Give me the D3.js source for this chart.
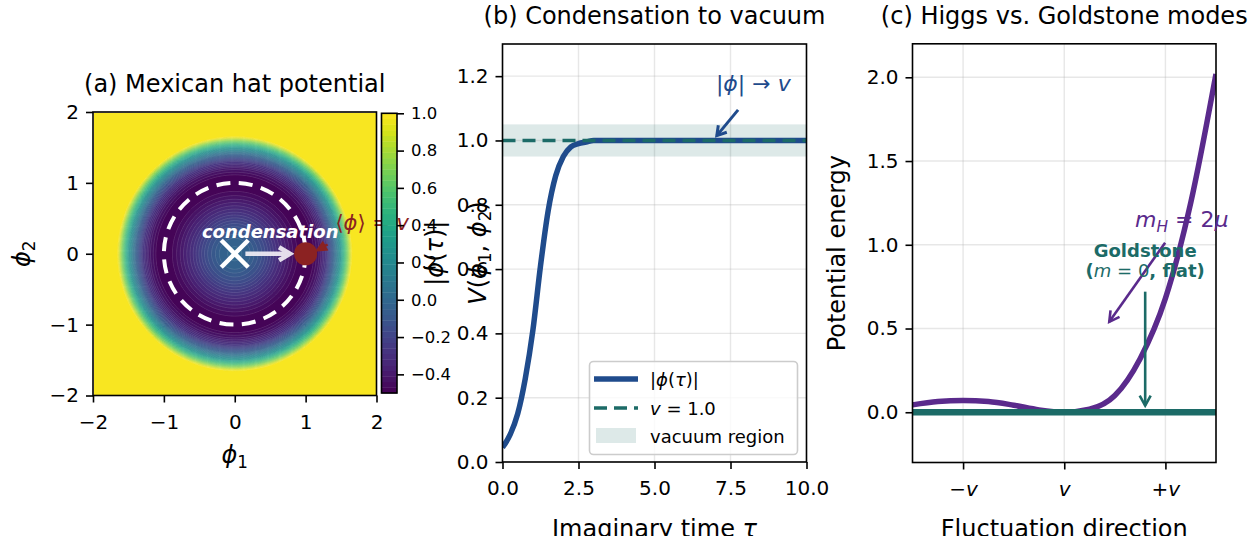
<!DOCTYPE html>
<html>
<head>
<meta charset="utf-8">
<script src="https://cdn.jsdelivr.net/npm/d3@7"></script>
<style>
  body { margin: 0; background: #fff; }
  text { font-family: "DejaVu Sans", sans-serif; }
</style>
</head>
<body>
<svg id="chart"></svg>
<script>
// ---- data ----
// (a) radial profile of the hat potential (clipped at 1)
let hatRadius = [0, 0.2, 0.4, 0.6, 0.8, 0.9, 1.0, 1.1, 1.2, 1.3, 1.4, 1.5, 1.6, 1.65, 1.7, 3.0];
let hatPotential = [0, -0.04, -0.15, -0.3, -0.43, -0.48, -0.5, -0.48, -0.4, -0.26, -0.04, 0.28, 0.72, 0.98, 1.0, 1.0];
let hatTicks = [-2, -1, 0, 1, 2];
let cbarTicks = [-0.4, -0.2, 0.0, 0.2, 0.4, 0.6, 0.8, 1.0];
let cbarRange = [-0.5, 1.0];
let vev = 1.0;

// (b) condensation in imaginary time
let tauValues = [0, 0.25, 0.5, 0.75, 1.0, 1.25, 1.5, 1.75, 2.0, 2.25, 2.5, 2.75, 3.0, 4.0, 5.0, 6.0, 8.0, 10.0];
let phiMagnitude = [0.045, 0.085, 0.15, 0.26, 0.41, 0.61, 0.78, 0.89, 0.95, 0.98, 0.99, 0.995, 1.0, 1.0, 1.0, 1.0, 1.0, 1.0];
let tauTicks = [0, 2.5, 5, 7.5, 10];
let phiTicks = [0, 0.2, 0.4, 0.6, 0.8, 1.0, 1.2];
let vacuumBand = [0.95, 1.05];

// (c) Higgs vs Goldstone
let fluctValues = [-1.5, -1.25, -1, -0.75, -0.5, -0.25, 0, 0.25, 0.5, 0.75, 1, 1.25, 1.5];
let higgsPotential = [0.044, 0.064, 0.07, 0.064, 0.042, 0.014, 0, 0.018, 0.1, 0.32, 0.68, 1.25, 2.02];
let goldstoneLevel = 0;
let fluctTicks = [-1, 0, 1];
let fluctTickLabels = [['\u2212', 'v'], ['', 'v'], ['+', 'v']];
let energyTicks = [0, 0.5, 1.0, 1.5, 2.0];

// ---- colours ----
let blue = '#1f4b8c',
    teal = '#1c6b67',
    purple = '#5a2a8c',
    darkRed = '#8b2222',
    gridColor = '#b0b0b0';

let W = 1254, H = 536;
let svg = d3.select('#chart').attr('width', W).attr('height', H);
svg.append('rect').attr('width', W).attr('height', H).attr('fill', '#fff');
let defs = svg.append('defs');

let minus = function (s) { return String(s).replace('-', '\u2212'); };
let fmt1 = function (d) { return minus(d3.format('.1f')(d)); };

// mathtext-ish helper: parts = [{t, it, sub, w}]
let mathText = function (g, x, y, parts, o) {
  let fs = o.size;
  let t = g.append('text')
    .attr('x', x).attr('y', y)
    .attr('font-size', fs)
    .attr('text-anchor', o.anchor || 'start')
    .attr('fill', o.color || '#000');
  if (o.rotate) t.attr('transform', 'rotate(' + o.rotate + ',' + x + ',' + y + ')');
  if (o.weight) t.attr('font-weight', o.weight);
  let shift = 0;
  parts.forEach(function (p) {
    let s = t.append('tspan').text(p.t);
    if (p.it) s.attr('font-style', 'italic');
    if (p.w) s.attr('font-weight', p.w);
    let target = p.sub ? fs * 0.22 : 0;
    if (target !== shift) { s.attr('dy', target - shift); shift = target; }
    if (p.sub) s.attr('font-size', fs * 0.7);
  });
  return t;
};

// simple "->" arrow
let arrow = function (g, x1, y1, x2, y2, color, width, headLen, headHalf, opacity) {
  let ang = Math.atan2(y2 - y1, x2 - x1);
  let bx = x2 - headLen * Math.cos(ang), by = y2 - headLen * Math.sin(ang);
  let px = -Math.sin(ang) * headHalf, py = Math.cos(ang) * headHalf;
  let a = g.append('g').attr('opacity', opacity == null ? 1 : opacity);
  a.append('line')
    .attr('x1', x1).attr('y1', y1).attr('x2', x2).attr('y2', y2)
    .attr('stroke', color).attr('stroke-width', width);
  a.append('path')
    .attr('d', 'M' + (bx + px) + ',' + (by + py) + 'L' + x2 + ',' + y2 + 'L' + (bx - px) + ',' + (by - py))
    .attr('fill', 'none').attr('stroke', color).attr('stroke-width', width)
    .attr('stroke-linejoin', 'miter');
};

let styleAxis = function (g, fs) {
  g.select('.domain').remove();
  g.selectAll('.tick line').attr('stroke', '#000').attr('stroke-width', 1.6);
  g.selectAll('.tick text').attr('fill', '#000').attr('font-size', fs)
    .attr('font-family', '"DejaVu Sans", sans-serif');
};

let TICK_FS = 20, LABEL_FS = 24, TITLE_FS = 24;
let XLABEL_Y = 537;

// =========================================================
// (a) Mexican hat potential
// =========================================================
let pa = { left: 93, right: 376.5, top: 112, bottom: 395.5 };
let ax = d3.scaleLinear().domain([-2, 2]).range([pa.left, pa.right]);
let ay = d3.scaleLinear().domain([-2, 2]).range([pa.bottom, pa.top]);

let radial = d3.scaleLinear().domain(hatRadius).range(hatPotential).clamp(true);
let n = 260;
let field = new Array(n * n);
for (let j = 0; j < n; j++) {
  for (let i = 0; i < n; i++) {
    let x = -2 + (i + 0.5) * 4 / n,
        y = 2 - (j + 0.5) * 4 / n;
    field[j * n + i] = radial(Math.hypot(x, y));
  }
}
let nLevels = 50;
let levels = d3.range(nLevels + 1).map(function (k) {
  return cbarRange[0] + k * (cbarRange[1] - cbarRange[0]) / nLevels;
});
let color = function (v) {
  return d3.interpolateViridis((v - cbarRange[0]) / (cbarRange[1] - cbarRange[0]));
};
let bands = d3.contours().size([n, n]).thresholds(levels.slice(0, -1).map(function (l, k) {
  return k === 0 ? l - 1e-6 : l;
}))(field);
let gridPath = d3.geoPath(d3.geoIdentity().scale((pa.right - pa.left) / n).translate([pa.left, pa.top]));

defs.append('clipPath').attr('id', 'clipA')
  .append('rect').attr('x', pa.left).attr('y', pa.top)
  .attr('width', pa.right - pa.left).attr('height', pa.bottom - pa.top);

let gA = svg.append('g');
let heat = gA.append('g').attr('clip-path', 'url(#clipA)');
heat.selectAll('path.band')
  .data(bands)
  .enter().append('path')
  .attr('class', 'band')
  .attr('d', gridPath)
  .attr('fill', function (d, k) { return color((levels[k] + levels[k + 1]) / 2); })
  .attr('stroke', function (d, k) { return color((levels[k] + levels[k + 1]) / 2); })
  .attr('stroke-width', 0.3);
heat.selectAll('path.iso')
  .data(bands.slice(1))
  .enter().append('path')
  .attr('class', 'iso')
  .attr('d', gridPath)
  .attr('fill', 'none')
  .attr('stroke', '#fff')
  .attr('stroke-opacity', 0.25)
  .attr('stroke-width', 0.5);

// vacuum manifold |phi| = v
gA.append('circle')
  .attr('cx', ax(0)).attr('cy', ay(0))
  .attr('r', ax(vev) - ax(0))
  .attr('fill', 'none').attr('stroke', '#fff')
  .attr('stroke-width', 4).attr('stroke-dasharray', '14,8.5');

// false vacuum X
let xs = 13.5;
[[-1, -1, 1, 1], [-1, 1, 1, -1]].forEach(function (c) {
  gA.append('line')
    .attr('x1', ax(0) + c[0] * xs).attr('y1', ay(0) + c[1] * xs)
    .attr('x2', ax(0) + c[2] * xs).attr('y2', ay(0) + c[3] * xs)
    .attr('stroke', '#fff').attr('stroke-width', 4.5);
});
arrow(gA, ax(0.15), ay(0), ax(0.78), ay(0), '#f2eef6', 4.5, 11, 6.5, 0.92);

// the red annotation arrowhead and its label (drawn below the colorbar)
let tipX = ax(1.15), tipY = ay(0.04);
let headAng = Math.atan2(tipY - ay(0.13), tipX - ax(1.31));
let hb = [tipX - 10 * Math.cos(headAng), tipY - 10 * Math.sin(headAng)];
let hp = [-Math.sin(headAng) * 4.5, Math.cos(headAng) * 4.5];
gA.append('line')
  .attr('x1', ax(1.31)).attr('y1', ay(0.13)).attr('x2', hb[0]).attr('y2', hb[1])
  .attr('stroke', darkRed).attr('stroke-width', 2.4);
gA.append('path')
  .attr('d', 'M' + (hb[0] + hp[0]) + ',' + (hb[1] + hp[1]) + 'L' + tipX + ',' + tipY +
    'L' + (hb[0] - hp[0]) + ',' + (hb[1] - hp[1]) + 'Z')
  .attr('fill', darkRed).attr('stroke', darkRed).attr('stroke-width', 1.5);
gA.append('circle')
  .attr('cx', ax(vev)).attr('cy', ay(0)).attr('r', 11.5)
  .attr('fill', darkRed);
mathText(gA, ax(1.42), ay(0.34), [
  { t: '\u27e8' }, { t: '\u03d5', it: true }, { t: '\u27e9 = ' }, { t: 'v', it: true }
], { size: 21, color: darkRed });

mathText(gA, ax(0.5), ay(0.22), [{ t: 'condensation', it: true }],
  { size: 18, color: '#fff', anchor: 'middle', weight: 'bold' });

gA.append('rect')
  .attr('x', pa.left).attr('y', pa.top)
  .attr('width', pa.right - pa.left).attr('height', pa.bottom - pa.top)
  .attr('fill', 'none').attr('stroke', '#000').attr('stroke-width', 1.6);

gA.append('g').attr('transform', 'translate(0,' + pa.bottom + ')')
  .call(d3.axisBottom(ax).tickValues(hatTicks).tickSize(7).tickPadding(12).tickFormat(minus))
  .call(styleAxis, TICK_FS);
gA.append('g').attr('transform', 'translate(' + pa.left + ',0)')
  .call(d3.axisLeft(ay).tickValues(hatTicks).tickSize(7).tickPadding(7).tickFormat(minus))
  .call(styleAxis, TICK_FS);

svg.append('text')
  .attr('x', (pa.left + pa.right) / 2).attr('y', 92)
  .attr('text-anchor', 'middle').attr('font-size', TITLE_FS)
  .text('(a) Mexican hat potential');
mathText(svg, (pa.left + pa.right) / 2, 463, [{ t: '\u03d5', it: true }, { t: '1', sub: true }],
  { size: LABEL_FS, anchor: 'middle' });
mathText(svg, 30, (pa.top + pa.bottom) / 2, [{ t: '\u03d5', it: true }, { t: '2', sub: true }],
  { size: LABEL_FS, anchor: 'middle', rotate: -90 });

// colorbar
let cb = { left: 381.5, right: 397, top: 113.3, bottom: 393 };
let cbY = d3.scaleLinear().domain(cbarRange).range([cb.bottom, cb.top]);
let gCB = svg.append('g');
gCB.selectAll('rect.cbband')
  .data(d3.range(nLevels))
  .enter().append('rect')
  .attr('class', 'cbband')
  .attr('x', cb.left).attr('width', cb.right - cb.left)
  .attr('y', function (k) { return cbY(levels[k + 1]); })
  .attr('height', function (k) { return cbY(levels[k]) - cbY(levels[k + 1]) + 0.4; })
  .attr('fill', function (k) { return color((levels[k] + levels[k + 1]) / 2); });
gCB.append('rect')
  .attr('x', cb.left).attr('y', cb.top)
  .attr('width', cb.right - cb.left).attr('height', cb.bottom - cb.top)
  .attr('fill', 'none').attr('stroke', '#000').attr('stroke-width', 1.6);
gCB.append('g').attr('transform', 'translate(' + cb.right + ',0)')
  .call(d3.axisRight(cbY).tickValues(cbarTicks).tickSize(7).tickPadding(7).tickFormat(fmt1))
  .call(styleAxis, 16.5);
mathText(svg, 443, (cb.top + cb.bottom) / 2, [
  { t: '|' }, { t: '\u03d5', it: true }, { t: '(' }, { t: '\u03c4', it: true }, { t: ')|' }
], { size: LABEL_FS, anchor: 'middle', rotate: -90 });

// =========================================================
// (b) Condensation to vacuum
// =========================================================
let pb = { left: 502.5, right: 806.5, top: 44, bottom: 462 };
let bx = d3.scaleLinear().domain([0, 10]).range([pb.left, pb.right]);
let by = d3.scaleLinear().domain([0, 1.3]).range([pb.bottom, pb.top]);

defs.append('clipPath').attr('id', 'clipB')
  .append('rect').attr('x', pb.left).attr('y', pb.top)
  .attr('width', pb.right - pb.left).attr('height', pb.bottom - pb.top);

let gB = svg.append('g');
let plotB = gB.append('g').attr('clip-path', 'url(#clipB)');
plotB.selectAll('line.vgrid').data(tauTicks).enter().append('line')
  .attr('x1', bx).attr('x2', bx).attr('y1', pb.top).attr('y2', pb.bottom)
  .attr('stroke', gridColor).attr('stroke-opacity', 0.3).attr('stroke-width', 1.4);
plotB.selectAll('line.hgrid').data(phiTicks).enter().append('line')
  .attr('y1', by).attr('y2', by).attr('x1', pb.left).attr('x2', pb.right)
  .attr('stroke', gridColor).attr('stroke-opacity', 0.3).attr('stroke-width', 1.4);

plotB.append('rect')
  .attr('x', pb.left).attr('width', pb.right - pb.left)
  .attr('y', by(vacuumBand[1])).attr('height', by(vacuumBand[0]) - by(vacuumBand[1]))
  .attr('fill', teal).attr('fill-opacity', 0.15);

let phiLine = d3.line()
  .x(function (d, i) { return bx(tauValues[i]); })
  .y(function (d) { return by(d); })
  .curve(d3.curveMonotoneX);
plotB.append('path')
  .attr('d', phiLine(phiMagnitude))
  .attr('fill', 'none').attr('stroke', blue).attr('stroke-width', 5.5);
plotB.append('line')
  .attr('x1', pb.left).attr('x2', pb.right).attr('y1', by(vev)).attr('y2', by(vev))
  .attr('stroke', teal).attr('stroke-width', 3.6).attr('stroke-dasharray', '13,7');

gB.append('rect')
  .attr('x', pb.left).attr('y', pb.top)
  .attr('width', pb.right - pb.left).attr('height', pb.bottom - pb.top)
  .attr('fill', 'none').attr('stroke', '#000').attr('stroke-width', 1.6);
gB.append('g').attr('transform', 'translate(0,' + pb.bottom + ')')
  .call(d3.axisBottom(bx).tickValues(tauTicks).tickSize(7).tickPadding(12).tickFormat(fmt1))
  .call(styleAxis, TICK_FS);
gB.append('g').attr('transform', 'translate(' + pb.left + ',0)')
  .call(d3.axisLeft(by).tickValues(phiTicks).tickSize(7).tickPadding(7).tickFormat(fmt1))
  .call(styleAxis, TICK_FS);

// annotation |phi| -> v
mathText(gB, bx(8.25), by(1.155), [
  { t: '|' }, { t: '\u03d5', it: true }, { t: '| \u2192 ' }, { t: 'v', it: true }
], { size: 22, color: blue, anchor: 'middle' });
arrow(gB, bx(7.75), by(1.095), bx(7.05), by(1.015), blue, 3, 9, 5.5);

// legend
let lg = gB.append('g');
lg.append('rect')
  .attr('x', 589.5).attr('y', 361.5).attr('width', 208).attr('height', 93)
  .attr('rx', 4).attr('fill', '#fff').attr('fill-opacity', 0.8)
  .attr('stroke', '#cccccc').attr('stroke-width', 1.6);
lg.append('line').attr('x1', 594).attr('x2', 638).attr('y1', 379).attr('y2', 379)
  .attr('stroke', blue).attr('stroke-width', 5.5);
lg.append('line').attr('x1', 594).attr('x2', 638).attr('y1', 408).attr('y2', 408)
  .attr('stroke', teal).attr('stroke-width', 3.6).attr('stroke-dasharray', '13,7');
lg.append('rect').attr('x', 596).attr('y', 428).attr('width', 40).attr('height', 15)
  .attr('fill', teal).attr('fill-opacity', 0.15);
mathText(lg, 650, 385.5, [
  { t: '|' }, { t: '\u03d5', it: true }, { t: '(' }, { t: '\u03c4', it: true }, { t: ')|' }
], { size: 18 });
mathText(lg, 650, 414.5, [{ t: 'v', it: true }, { t: ' = 1.0' }], { size: 18 });
lg.append('text').attr('x', 650).attr('y', 443).attr('font-size', 18).text('vacuum region');

svg.append('text')
  .attr('x', (pb.left + pb.right) / 2).attr('y', 24)
  .attr('text-anchor', 'middle').attr('font-size', TITLE_FS)
  .text('(b) Condensation to vacuum');
mathText(svg, (pb.left + pb.right) / 2, XLABEL_Y, [
  { t: 'Imaginary time ' }, { t: '\u03c4', it: true }
], { size: LABEL_FS, anchor: 'middle' });
mathText(svg, 486, (pb.top + pb.bottom) / 2, [
  { t: 'V', it: true }, { t: '(' }, { t: '\u03d5', it: true }, { t: '1', sub: true },
  { t: ', ' }, { t: '\u03d5', it: true }, { t: '2', sub: true }, { t: ')' }
], { size: LABEL_FS, anchor: 'middle', rotate: -90 });

// =========================================================
// (c) Higgs vs. Goldstone modes
// =========================================================
let pc = { left: 912.5, right: 1216, top: 43.8, bottom: 462.5 };
let cx = d3.scaleLinear().domain([-1.5, 1.5]).range([pc.left, pc.right]);
let cy = d3.scaleLinear().domain([-0.3, 2.2]).range([pc.bottom, pc.top]);

defs.append('clipPath').attr('id', 'clipC')
  .append('rect').attr('x', pc.left).attr('y', pc.top)
  .attr('width', pc.right - pc.left).attr('height', pc.bottom - pc.top);

let gC = svg.append('g');
let plotC = gC.append('g').attr('clip-path', 'url(#clipC)');
plotC.selectAll('line.vgrid').data(fluctTicks).enter().append('line')
  .attr('x1', cx).attr('x2', cx).attr('y1', pc.top).attr('y2', pc.bottom)
  .attr('stroke', gridColor).attr('stroke-opacity', 0.3).attr('stroke-width', 1.4);
plotC.selectAll('line.hgrid').data(energyTicks).enter().append('line')
  .attr('y1', cy).attr('y2', cy).attr('x1', pc.left).attr('x2', pc.right)
  .attr('stroke', gridColor).attr('stroke-opacity', 0.3).attr('stroke-width', 1.4);

let higgsLine = d3.line()
  .x(function (d, i) { return cx(fluctValues[i]); })
  .y(function (d) { return cy(d); })
  .curve(d3.curveMonotoneX);
plotC.append('path')
  .attr('d', higgsLine(higgsPotential))
  .attr('fill', 'none').attr('stroke', purple).attr('stroke-width', 5.5);
plotC.append('line')
  .attr('x1', pc.left).attr('x2', pc.right)
  .attr('y1', cy(goldstoneLevel)).attr('y2', cy(goldstoneLevel))
  .attr('stroke', teal).attr('stroke-width', 6.5);

gC.append('rect')
  .attr('x', pc.left).attr('y', pc.top)
  .attr('width', pc.right - pc.left).attr('height', pc.bottom - pc.top)
  .attr('fill', 'none').attr('stroke', '#000').attr('stroke-width', 1.6);
let cxAxis = gC.append('g').attr('transform', 'translate(0,' + pc.bottom + ')')
  .call(d3.axisBottom(cx).tickValues(fluctTicks).tickSize(7).tickPadding(12).tickFormat(''))
  .call(styleAxis, TICK_FS);
cxAxis.selectAll('.tick text').each(function (d, i) {
  let t = d3.select(this).text('');
  let lab = fluctTickLabels[i];
  if (lab[0]) t.append('tspan').text(lab[0]);
  t.append('tspan').attr('font-style', 'italic').text(lab[1]);
});
gC.append('g').attr('transform', 'translate(' + pc.left + ',0)')
  .call(d3.axisLeft(cy).tickValues(energyTicks).tickSize(7).tickPadding(7).tickFormat(fmt1))
  .call(styleAxis, TICK_FS);

// annotations
mathText(gC, cx(0.70), cy(1.106), [
  { t: 'm', it: true }, { t: 'H', it: true, sub: true }, { t: ' = 2' }, { t: '\u03bc', it: true }
], { size: 22, color: purple });
arrow(gC, cx(0.997), cy(1.012), cx(0.445), cy(0.54), purple, 2.6, 10, 5.5);

gC.append('text')
  .attr('x', cx(0.80)).attr('y', cy(0.927))
  .attr('text-anchor', 'middle').attr('font-size', 18)
  .attr('font-weight', 'bold').attr('fill', teal)
  .text('Goldstone');
mathText(gC, cx(0.80), cy(0.808), [
  { t: '(', w: 'bold' }, { t: 'm', it: true }, { t: ' = 0' }, { t: ', flat)', w: 'bold' }
], { size: 18, color: teal, anchor: 'middle' });
arrow(gC, cx(0.80), cy(0.72), cx(0.80), cy(0.04), teal, 2.6, 10, 5.5);

svg.append('text')
  .attr('x', (pc.left + pc.right) / 2).attr('y', 24)
  .attr('text-anchor', 'middle').attr('font-size', TITLE_FS)
  .text('(c) Higgs vs. Goldstone modes');
svg.append('text')
  .attr('x', (pc.left + pc.right) / 2).attr('y', XLABEL_Y)
  .attr('text-anchor', 'middle').attr('font-size', LABEL_FS)
  .text('Fluctuation direction');
svg.append('text')
  .attr('x', 845).attr('y', (pc.top + pc.bottom) / 2)
  .attr('text-anchor', 'middle').attr('font-size', LABEL_FS)
  .attr('transform', 'rotate(-90,845,' + (pc.top + pc.bottom) / 2 + ')')
  .text('Potential energy');
</script>
</body>
</html>
